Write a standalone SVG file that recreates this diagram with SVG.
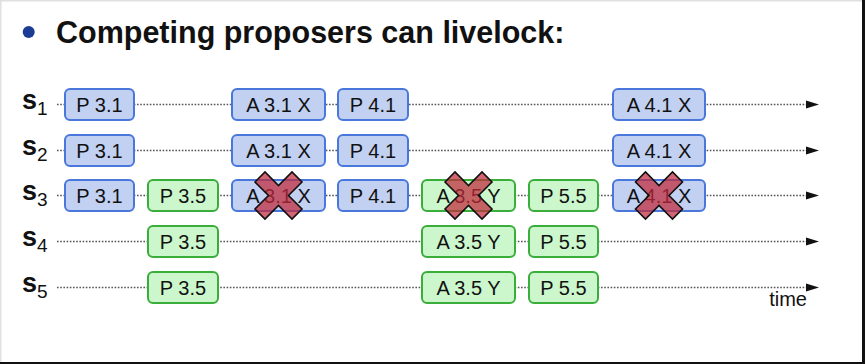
<svg xmlns="http://www.w3.org/2000/svg" width="865" height="364" viewBox="0 0 865 364">
<defs>
<style>
.t{font-family:"Liberation Sans",Arial,sans-serif;fill:#111}
.bt{font-size:20px;text-anchor:middle}
.lbl{font-size:27px;font-weight:bold}
.sub{font-size:19px;font-weight:normal}
.b{fill:#c2d0f2;stroke:#4a77dc;stroke-width:2}
.g{fill:#ccf7cc;stroke:#3aae3a;stroke-width:2}
.ln{stroke:#555;stroke-width:1.6;stroke-dasharray:1.6 1.6;fill:none}
.x{fill:#c02a3a;fill-opacity:0.72;stroke:#111;stroke-width:1.6;stroke-linejoin:miter}
</style>
<polygon id="xm" points="-23.5,-13.5 -13.5,-23.5 0,-10 13.5,-23.5 23.5,-13.5 10,0 23.5,13.5 13.5,23.5 0,10 -13.5,23.5 -23.5,13.5 -10,0"/>
</defs>
<rect x="0" y="0" width="865" height="364" fill="#fff"/>
<rect x="0" y="0" width="865" height="1.5" fill="#e0e0e0"/>
<rect x="0" y="0" width="1.5" height="364" fill="#e0e0e0"/>
<rect x="862" y="0" width="3" height="364" fill="#111"/>
<rect x="0" y="362" width="865" height="2" fill="#111"/>

<g id="title">
<circle cx="28.7" cy="32" r="6" fill="#1c3b94"/>
<text class="t" x="56" y="43" font-size="30.5" font-weight="bold">Competing proposers can livelock:</text>
</g>

<g id="labels">
<text class="t lbl" x="22" y="108.5">s<tspan class="sub" dy="6">1</tspan></text>
<text class="t lbl" x="22" y="154.5">s<tspan class="sub" dy="6">2</tspan></text>
<text class="t lbl" x="22" y="199.5">s<tspan class="sub" dy="6">3</tspan></text>
<text class="t lbl" x="22" y="245.5">s<tspan class="sub" dy="6">4</tspan></text>
<text class="t lbl" x="22" y="291.5">s<tspan class="sub" dy="6">5</tspan></text>
</g>

<g id="connectors">
<line class="ln" x1="57" y1="104.5" x2="806" y2="104.5"/>
<line class="ln" x1="57" y1="150.5" x2="806" y2="150.5"/>
<line class="ln" x1="57" y1="195.5" x2="806" y2="195.5"/>
<line class="ln" x1="57" y1="241.5" x2="806" y2="241.5"/>
<line class="ln" x1="57" y1="287.5" x2="806" y2="287.5"/>
<path d="M806,100.5 L819,104.5 L806,108.5 Z" fill="#111"/>
<path d="M806,146.5 L819,150.5 L806,154.5 Z" fill="#111"/>
<path d="M806,191.5 L819,195.5 L806,199.5 Z" fill="#111"/>
<path d="M806,237.5 L819,241.5 L806,245.5 Z" fill="#111"/>
<path d="M806,283.5 L819,287.5 L806,291.5 Z" fill="#111"/>
</g>

<g id="row1">
<g id="s1-p31"><rect class="b" x="65" y="89" width="69" height="31" rx="5"/><text class="t bt" x="99.5" y="111.5">P 3.1</text></g>
<g id="s1-a31"><rect class="b" x="232" y="89" width="93" height="31" rx="5"/><text class="t bt" x="278.5" y="111.5">A 3.1 X</text></g>
<g id="s1-p41"><rect class="b" x="338" y="89" width="70" height="31" rx="5"/><text class="t bt" x="373" y="111.5">P 4.1</text></g>
<g id="s1-a41"><rect class="b" x="613" y="89" width="92" height="31" rx="5"/><text class="t bt" x="659" y="111.5">A 4.1 X</text></g>
</g>
<g id="row2">
<g id="s2-p31"><rect class="b" x="65" y="135" width="69" height="31" rx="5"/><text class="t bt" x="99.5" y="157.5">P 3.1</text></g>
<g id="s2-a31"><rect class="b" x="232" y="135" width="93" height="31" rx="5"/><text class="t bt" x="278.5" y="157.5">A 3.1 X</text></g>
<g id="s2-p41"><rect class="b" x="338" y="135" width="70" height="31" rx="5"/><text class="t bt" x="373" y="157.5">P 4.1</text></g>
<g id="s2-a41"><rect class="b" x="613" y="135" width="92" height="31" rx="5"/><text class="t bt" x="659" y="157.5">A 4.1 X</text></g>
</g>
<g id="row3">
<g id="s3-p31"><rect class="b" x="65" y="180" width="69" height="31" rx="5"/><text class="t bt" x="99.5" y="202.5">P 3.1</text></g>
<g id="s3-p35"><rect class="g" x="148" y="180" width="70" height="31" rx="5"/><text class="t bt" x="183" y="202.5">P 3.5</text></g>
<g id="s3-a31"><rect class="b" x="232" y="180" width="93" height="31" rx="5"/><text class="t bt" x="278.5" y="202.5">A 3.1 X</text></g>
<g id="s3-p41"><rect class="b" x="338" y="180" width="70" height="31" rx="5"/><text class="t bt" x="373" y="202.5">P 4.1</text></g>
<g id="s3-a35"><rect class="g" x="422" y="180" width="93" height="31" rx="5"/><text class="t bt" x="468.5" y="202.5">A 3.5 Y</text></g>
<g id="s3-p55"><rect class="g" x="529" y="180" width="69" height="31" rx="5"/><text class="t bt" x="563.5" y="202.5">P 5.5</text></g>
<g id="s3-a41"><rect class="b" x="613" y="180" width="92" height="31" rx="5"/><text class="t bt" x="659" y="202.5">A 4.1 X</text></g>
</g>
<g id="row4">
<g id="s4-p35"><rect class="g" x="148" y="226" width="70" height="31" rx="5"/><text class="t bt" x="183" y="248.5">P 3.5</text></g>
<g id="s4-a35"><rect class="g" x="422" y="226" width="93" height="31" rx="5"/><text class="t bt" x="468.5" y="248.5">A 3.5 Y</text></g>
<g id="s4-p55"><rect class="g" x="529" y="226" width="69" height="31" rx="5"/><text class="t bt" x="563.5" y="248.5">P 5.5</text></g>
</g>
<g id="row5">
<g id="s5-p35"><rect class="g" x="148" y="272" width="70" height="31" rx="5"/><text class="t bt" x="183" y="294.5">P 3.5</text></g>
<g id="s5-a35"><rect class="g" x="422" y="272" width="93" height="31" rx="5"/><text class="t bt" x="468.5" y="294.5">A 3.5 Y</text></g>
<g id="s5-p55"><rect class="g" x="529" y="272" width="69" height="31" rx="5"/><text class="t bt" x="563.5" y="294.5">P 5.5</text></g>
</g>

<g id="crosses">
<use href="#xm" class="x" x="278.5" y="195.5"/>
<use href="#xm" class="x" x="468.5" y="195.5"/>
<use href="#xm" class="x" x="659" y="195.5"/>
</g>

<text id="time" class="t" x="807" y="306" font-size="20" text-anchor="end">time</text>
</svg>
